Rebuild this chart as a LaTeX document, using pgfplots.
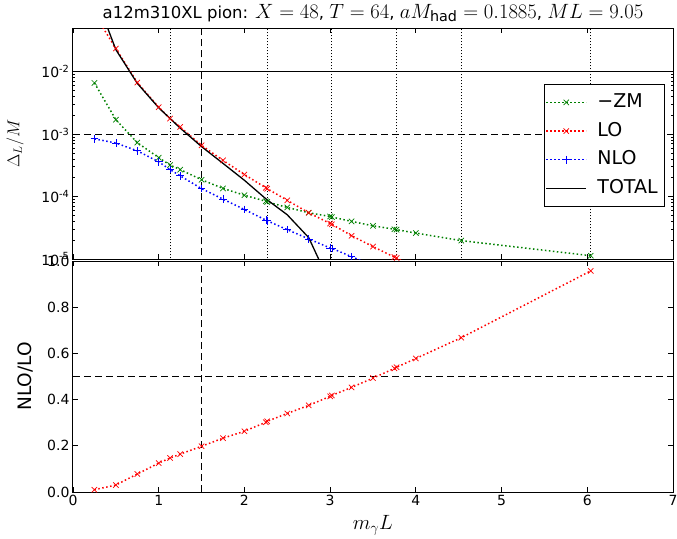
\documentclass[border=0pt]{standalone}
\usepackage{fontspec}
\setmainfont{DejaVu Sans}
\usepackage{pgfplots}
\pgfplotsset{compat=1.18}

\definecolor{mplgreen}{rgb}{0,0.5,0}
\definecolor{mplred}{rgb}{1,0,0}
\definecolor{mplblue}{rgb}{0,0,1}

\pgfplotsset{
  panel/.style={
    width=600bp, height=231bp, scale only axis,
    xmin=0, xmax=7, xtick={0,...,7},
    tick align=inside, major tick length=5bp, minor tick length=2.5bp,
    tick style={black, line width=0.8bp},
    axis line style={line width=1bp},
    /pgf/number format/assume math mode=true,
    tick label style={font=\fontsize{14bp}{16bp}\selectfont},
    label style={font=\fontsize{18.5bp}{21bp}\selectfont},
  },
  dots/.style={line width=1.5bp, dash pattern=on 1.5bp off 2.5bp},
  refdot/.style={black, line width=1bp, dash pattern=on 1bp off 2bp, forget plot},
  refdash/.style={black, line width=1.2bp, dash pattern=on 7bp off 4bp, forget plot},
  mk/.style={mark size=3.8bp, mark options={solid, line width=0.7bp}},
}
\newcommand\tm[1]{{\fontsize{20.5bp}{22bp}\selectfont$#1$}}

\begin{document}
\begin{tikzpicture}
\begin{axis}[panel, name=top,
  ymode=log, ymin=1e-5, ymax=0.05,
  xticklabels={},
  ytick={1e-5,1e-4,1e-3,1e-2},
  yticklabels={10\textsuperscript{-5},10\textsuperscript{-4},10\textsuperscript{-3},10\textsuperscript{-2}},
  ylabel={$\Delta_L/M$},
  ylabel style={at={(rel axis cs:0,0.5)}, anchor=center, yshift=58bp},
  legend style={at={(0.9867,0.7576)}, anchor=north east, draw=black, line width=1bp,
    fill=white, font=\fontsize{19bp}{21bp}\selectfont, row sep=0bp,
    inner xsep=1.5bp, inner ysep=3.5bp,
    nodes={text height=14bp, text depth=4bp, inner sep=5.35bp},
    cells={anchor=west}},
  legend image code/.code={\draw[mark repeat=2,mark phase=2] plot coordinates {(0bp,0bp)(20bp,0bp)(40bp,0bp)};\path (45bp,0bp);},
]
% reference lines
\addplot[refdot] coordinates {(1.1325,1e-6)(1.1325,1)};
\addplot[refdot] coordinates {(2.265,1e-6)(2.265,1)};
\addplot[refdot] coordinates {(3.02,1e-6)(3.02,1)};
\addplot[refdot] coordinates {(3.775,1e-6)(3.775,1)};
\addplot[refdot] coordinates {(4.53,1e-6)(4.53,1)};
\addplot[refdot] coordinates {(6.04,1e-6)(6.04,1)};
\addplot[black, line width=1bp, forget plot] coordinates {(0,1e-2)(7,1e-2)};
\addplot[refdash] coordinates {(0,1e-3)(7,1e-3)};
\addplot[refdash] coordinates {(1.5,1e-6)(1.5,1)};

% -ZM
\addplot[mplgreen, dots, mark=x, mk] coordinates {
(0.25,6.6e-3)(0.5,1.7e-3)(0.75,7.3e-4)(1.0,4.2e-4)(1.1325,3.2e-4)(1.25,2.7e-4)
(1.5,1.86e-4)(1.75,1.35e-4)(2.0,1.05e-4)(2.25,8.4e-5)(2.265,8.2e-5)(2.5,6.7e-5)
(2.75,5.5e-5)(3.0,4.8e-5)(3.02,4.7e-5)(3.25,4.0e-5)(3.5,3.4e-5)(3.75,3.0e-5)
(3.775,2.95e-5)(4.0,2.6e-5)(4.53,1.97e-5)(6.04,1.13e-5)};
\addlegendentry{−ZM}
% LO
\addplot[mplred, dots, mark=x, mk] coordinates {
(0.25,8.4e-2)(0.5,2.35e-2)(0.75,6.7e-3)(1.0,2.7e-3)(1.1325,1.77e-3)(1.25,1.3e-3)
(1.5,6.6e-4)(1.75,3.8e-4)(2.0,2.25e-4)(2.25,1.38e-4)(2.265,1.34e-4)(2.5,8.7e-5)
(2.75,5.5e-5)(3.0,3.7e-5)(3.02,3.6e-5)(3.25,2.36e-5)(3.5,1.58e-5)(3.75,1.07e-5)
(3.775,1.04e-5)(4.0,7e-6)(4.53,3.2e-6)(6.04,5e-7)};
\addlegendentry{LO}
% NLO
\addplot[mplblue, dots, mark=+, mk] coordinates {
(0.25,8.4e-4)(0.5,7.2e-4)(0.75,5.4e-4)(1.0,3.6e-4)(1.1325,2.7e-4)(1.25,2.15e-4)
(1.5,1.34e-4)(1.75,9.1e-5)(2.0,6.2e-5)(2.25,4.2e-5)(2.265,4.1e-5)(2.5,2.95e-5)
(2.75,2.1e-5)(3.0,1.5e-5)(3.02,1.48e-5)(3.25,1.09e-5)(3.5,7.8e-6)(3.75,5.8e-6)
(3.775,5.6e-6)(4.0,4e-6)(4.53,2.1e-6)(6.04,4.8e-7)};
\addlegendentry{NLO}
% TOTAL
\addplot[black, line width=1.3bp, no marks] coordinates {
(0.25,0.18)(0.5,2.25e-2)(0.75,6.5e-3)(1.0,2.64e-3)(1.25,1.25e-3)(1.5,6.3e-4)
(1.75,3.4e-4)(2.0,1.82e-4)(2.25,9.2e-5)(2.5,5.1e-5)(2.75,2.2e-5)(3.0,4e-6)};
\addlegendentry{TOTAL}
\end{axis}

\begin{axis}[panel, at={(0,-2bp)}, anchor=north west,
  ymin=0, ymax=1.0, ytick={0,0.2,...,1.0},
  yticklabel style={/pgf/number format/.cd, fixed, fixed zerofill, precision=1},
  ylabel={NLO/LO},
  ylabel style={at={(rel axis cs:0,0.5)}, anchor=center, yshift=48bp},
  xlabel={$m_\gamma L$},
  xlabel style={at={(rel axis cs:0.5,0)}, anchor=center, yshift=-33bp, font=\fontsize{19bp}{21bp}\selectfont},
]
\addplot[refdash] coordinates {(0,0.5)(7,0.5)};
\addplot[refdash] coordinates {(1.5,0)(1.5,1)};
\addplot[mplred, dots, mark=x, mk] coordinates {
(0.25,0.01)(0.5,0.03)(0.75,0.078)(1.0,0.125)(1.1325,0.147)(1.25,0.164)
(1.5,0.198)(1.75,0.233)(2.0,0.263)(2.25,0.302)(2.265,0.306)(2.5,0.34)
(2.75,0.375)(3.0,0.414)(3.02,0.418)(3.25,0.453)(3.5,0.493)(3.75,0.535)
(3.775,0.540)(4.0,0.578)(4.53,0.668)(6.04,0.957)};
\end{axis}

\node[font=\fontsize{16.5bp}{19bp}\selectfont] at (300bp,246bp)
  {a12m310XL pion: \tm{X=48}, \tm{T=64}, \tm{aM_{\mathrm{had}}=0.1885}, \tm{ML=9.05}};

\pgfresetboundingbox
\path[use as bounding box] (-73bp,-280bp) rectangle (604bp,259bp);
\end{tikzpicture}
\end{document}
